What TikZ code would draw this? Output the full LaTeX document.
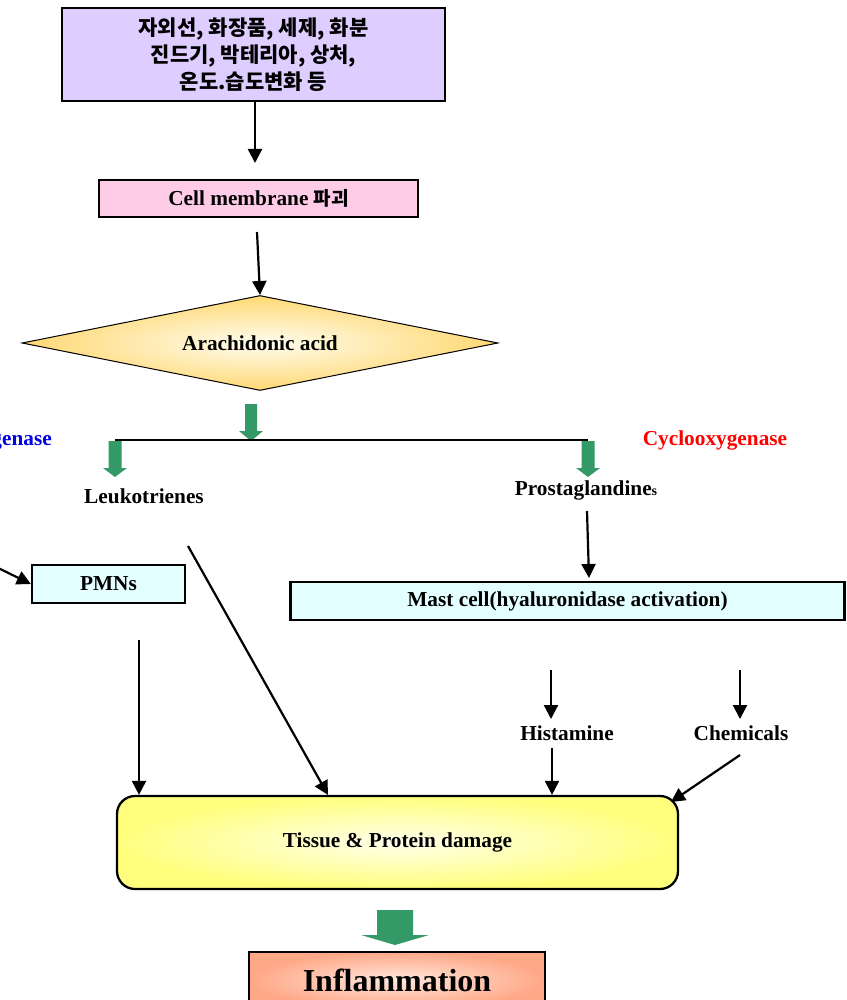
\documentclass[tikz,border=0pt]{standalone}
\usepackage{fontspec}
\setmainfont{Liberation Serif}
\newfontfamily\cjk{Noto Sans CJK KR}
\usetikzlibrary{arrows.meta,shapes.geometric}
\definecolor{lav}{RGB}{222,206,255}
\definecolor{pinkbox}{RGB}{255,204,232}
\definecolor{cyanbox}{RGB}{228,255,255}
\definecolor{diaout}{RGB}{255,216,115}
\definecolor{diain}{RGB}{255,253,240}
\definecolor{tisout}{RGB}{255,255,125}
\definecolor{tisin}{RGB}{255,255,235}
\definecolor{infout}{RGB}{255,168,135}
\definecolor{infin}{RGB}{255,232,222}
\definecolor{garrowcol}{RGB}{51,153,102}
\definecolor{lipblue}{RGB}{0,0,225}
\definecolor{coxred}{RGB}{255,0,0}
\newcommand\gArrow[6]{\fill[garrowcol] (#1-#5,#2) -- (#1+#5,#2) -- (#1+#5,#3) -- (#1+#6,#3) -- (#1,#4) -- (#1-#6,#3) -- (#1-#5,#3) -- cycle;}
\begin{document}
\begin{tikzpicture}[x=1pt,y=-1pt,
  box/.style={draw, line width=2.3pt, inner sep=0pt, font=\fontsize{21.3}{25}\selectfont\bfseries},
  lbl/.style={inner sep=2pt, font=\fontsize{21.3}{25}\selectfont\bfseries},
  arr/.style={line width=2.2pt, -{Triangle[length=14pt,width=14pt]}}]
\useasboundingbox (0,0) rectangle (846,1000);
% top box
\node[box, line width=2.6pt, fill=lav, minimum width=383pt, minimum height=93pt, align=center,
      font=\cjk\bfseries\fontsize{21}{27}\selectfont] (top) at (253.5,54.5)
  {자외선, 화장품, 세제, 화분\\진드기, 박테리아, 상처,\\온도.습도변화 등};
\coordinate (c1) at (255,163);
\draw[arr] (top.south -| c1) -- (c1);
% cell membrane
\node[box, fill=pinkbox, minimum width=319pt, minimum height=37pt] (cell) at (258.5,198.5)
  {Cell membrane {\cjk\bfseries\fontsize{19}{25}\selectfont 파괴}};
\coordinate (c2) at (257,232);
% diamond
\node[diamond, aspect=5, draw, line width=1pt, shade, inner color=diain, outer color=diaout, inner sep=0pt,
      minimum width=476pt, minimum height=95pt, font=\fontsize{21.3}{25}\selectfont\bfseries] (ac) at (260,343) {Arachidonic acid};
\draw[arr] (c2) -- (ac.north);
% green arrow and split
\gArrow{251}{404}{431}{441}{6}{12}
\coordinate (bl) at (115,440);
\coordinate (br) at (588,440);
\draw[line width=2.6pt] (bl) -- (br);
\gArrow{115}{441}{468}{477}{6.5}{12}
\gArrow{588}{441}{468}{477}{6.5}{12}
% labels
\node[lbl, text=lipblue, anchor=east] (lipo) at (54,440) {Lipoxygenase};
\node[lbl, text=coxred] (cox) at (715,440) {Cyclooxygenase};
\node[lbl] (leu) at (144,496) {Leukotrienes};
\node[lbl] (pros) at (586,490) {Prostaglandine{\fontsize{14}{16}\selectfont s}};
% PMNs and mast cell
\node[box, fill=cyanbox, minimum width=153pt, minimum height=38pt] (pmn) at (108.5,584) {PMNs};
\node[box, fill=cyanbox, minimum width=554pt, minimum height=38pt] (mast) at (567.5,601) {Mast cell(hyaluronidase activation)};
\coordinate (p1) at (587,511);
\coordinate (p2) at (589,578);
\draw[arr] (p1) -- (p2);
\coordinate (l0) at (-10,564);
\draw[arr] (l0) -- (pmn.west);
% histamine, chemicals
\node[lbl] (his) at (567,733) {Histamine};
\node[lbl] (chem) at (741,733) {Chemicals};
\coordinate (h0) at (551,670);
\coordinate (h1) at (551,719);
\draw[arr] (h0) -- (h1);
\coordinate (e0) at (740,670);
\coordinate (e1) at (740,719);
\draw[arr] (e0) -- (e1);
% tissue box
\node[draw, line width=2.3pt, rounded corners=18pt, shade, inner color=tisin, outer color=tisout,
      minimum width=561pt, minimum height=93pt, inner sep=0pt, font=\fontsize{21.3}{25}\selectfont\bfseries] (tis) at (397.5,842.5) {Tissue \& Protein damage};
\coordinate (m1) at (139,640);
\draw[arr] (m1) -- (m1 |- tis.north);
\coordinate (k1) at (188,546);
\coordinate (k2) at (328,795);
\draw[arr] (k1) -- (k2);
\coordinate (h2) at (552,748);
\draw[arr] (h2) -- (h2 |- tis.north);
\coordinate (e2) at (740,755);
\coordinate (e3) at (671,802);
\draw[arr] (e2) -- (e3);
% inflammation
\gArrow{395}{910}{935}{945}{18}{34}
\node[box, shade, inner color=infin, outer color=infout, minimum width=296pt, minimum height=56pt,
      font=\fontsize{32}{36}\selectfont\bfseries] (inf) at (397,980) {Inflammation};
\end{tikzpicture}
\end{document}
